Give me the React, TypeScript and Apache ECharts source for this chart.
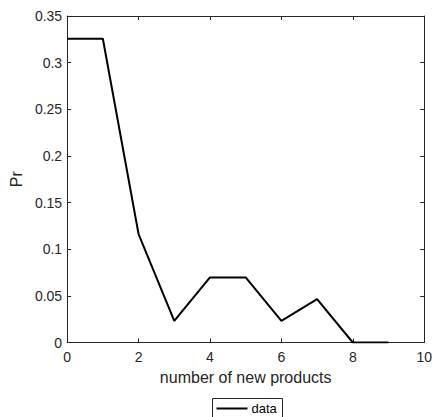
import React, { useEffect, useRef } from "react";
import * as echarts from "echarts";

const xValues = [0, 1, 2, 3, 4, 5, 6, 7, 8, 9];
const prValues = [14 / 43, 14 / 43, 5 / 43, 1 / 43, 3 / 43, 3 / 43, 1 / 43, 2 / 43, 0, 0];
const seriesName = "data";
const xTitle = "number of new products";
const yTitle = "Pr";

const AX = "#262626";
const FONT = "'Liberation Sans', Arial, Helvetica, sans-serif";

export default function App() {
  const ref = useRef<HTMLDivElement>(null);
  useEffect(() => {
    if (!ref.current) return;
    const chart = echarts.init(ref.current, undefined, { renderer: "svg" });
    const baseX = {
      type: "value" as const,
      min: 0,
      max: 10,
      interval: 2,
      axisLine: { show: true, onZero: false, lineStyle: { color: AX, width: 1 } },
      axisTick: { show: true, inside: true, length: 4, lineStyle: { color: AX } },
      splitLine: { show: false },
    };
    const baseY = {
      type: "value" as const,
      min: 0,
      max: 0.35,
      interval: 0.05,
      axisLine: { show: true, onZero: false, lineStyle: { color: AX, width: 1 } },
      axisTick: { show: true, inside: true, length: 4, lineStyle: { color: AX } },
      splitLine: { show: false },
    };
    chart.setOption({
      animation: false,
      backgroundColor: "#ffffff",
      textStyle: { fontFamily: FONT },
      grid: { left: 64, top: 16, width: 364, height: 326.5, containLabel: false },
      xAxis: [
        {
          ...baseX,
          position: "bottom",
          axisLabel: { color: AX, fontSize: 14, margin: 7, fontFamily: FONT },
          name: xTitle,
          nameLocation: "middle",
          nameGap: 27,
          nameTextStyle: { color: AX, fontSize: 16, fontFamily: FONT },
        },
        { ...baseX, position: "top", axisLabel: { show: false } },
      ],
      yAxis: [
        {
          ...baseY,
          position: "left",
          axisLabel: { color: AX, fontSize: 14, margin: 5, fontFamily: FONT },
          name: yTitle,
          nameLocation: "middle",
          nameGap: 42,
          nameTextStyle: { color: AX, fontSize: 16, fontFamily: FONT },
        },
        { ...baseY, position: "right", axisLabel: { show: false } },
      ],
      graphic: [
        {
          type: "group",
          left: 212,
          top: 398,
          children: [
            {
              type: "rect",
              shape: { x: 0, y: 0, width: 70, height: 24 },
              style: { fill: "#ffffff", stroke: AX, lineWidth: 1 },
            },
            {
              type: "line",
              shape: { x1: 4, y1: 10, x2: 35, y2: 10 },
              style: { stroke: "#000000", lineWidth: 2 },
            },
            {
              type: "text",
              x: 39,
              y: 10,
              style: {
                text: seriesName,
                fill: "#000000",
                fontSize: 13,
                fontFamily: FONT,
                verticalAlign: "middle",
                align: "left",
              },
            },
          ],
        },
      ],
      series: [
        {
          name: seriesName,
          type: "line",
          xAxisIndex: 0,
          yAxisIndex: 0,
          data: xValues.map((x, i) => [x, prValues[i]]),
          symbol: "none",
          lineStyle: { color: "#000000", width: 2 },
          itemStyle: { color: "#000000" },
        },
      ],
    });
    return () => chart.dispose();
  }, []);
  return (
    <div
      ref={ref}
      style={{ position: "absolute", left: 0, top: 0, width: 435, height: 425, background: "#fff" }}
    />
  );
}
